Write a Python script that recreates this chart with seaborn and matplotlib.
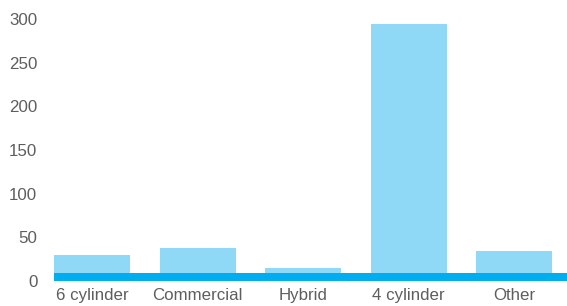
import pandas as pd
import matplotlib
matplotlib.use('Agg')
import matplotlib.pyplot as plt
import seaborn as sns

# chart values
categories = ['6 cylinder', 'Commercial', 'Hybrid', '4 cylinder', 'Other']
counts = [30, 37, 15, 295, 33.5]
y_ticks = [0, 50, 100, 150, 200, 250, 300]

df = pd.DataFrame({'category': categories, 'count': counts})

sns.set_theme(style='white')
plt.rcParams['font.family'] = ['Liberation Sans', 'DejaVu Sans']
text_grey = '#5e5e5e'

fig = plt.figure(figsize=(5.67, 3.06), dpi=100)
ax = fig.add_axes([0.0952, 0.0827, 0.9048, 0.8546])

sns.barplot(ax=ax, data=df, x='category', y='count', color='#8fd8f6',
            saturation=1, width=0.72, linewidth=0, edgecolor='none')

ax.set_xlim(-0.36, 4.5)
ax.set_ylim(0, 300)
ax.set_yticks(y_ticks)
ax.set_xlabel('')
ax.set_ylabel('')
ax.tick_params(axis='both', length=0, colors=text_grey, labelsize=12.2)
ax.tick_params(axis='y', pad=12)
ax.tick_params(axis='x', pad=8)

for side in ['top', 'right', 'left']:
    ax.spines[side].set_visible(False)
# thick blue base band sitting just above zero
lw_px = 8
ax.spines['bottom'].set_color('#00aeef')
ax.spines['bottom'].set_linewidth(lw_px * 72 / 100)
ax.spines['bottom'].set_position(('outward', -lw_px / 2 * 72 / 100))
ax.spines['bottom'].set_zorder(3)
ax.spines['bottom'].set_capstyle('butt')

fig.savefig('out.png', dpi=100)
